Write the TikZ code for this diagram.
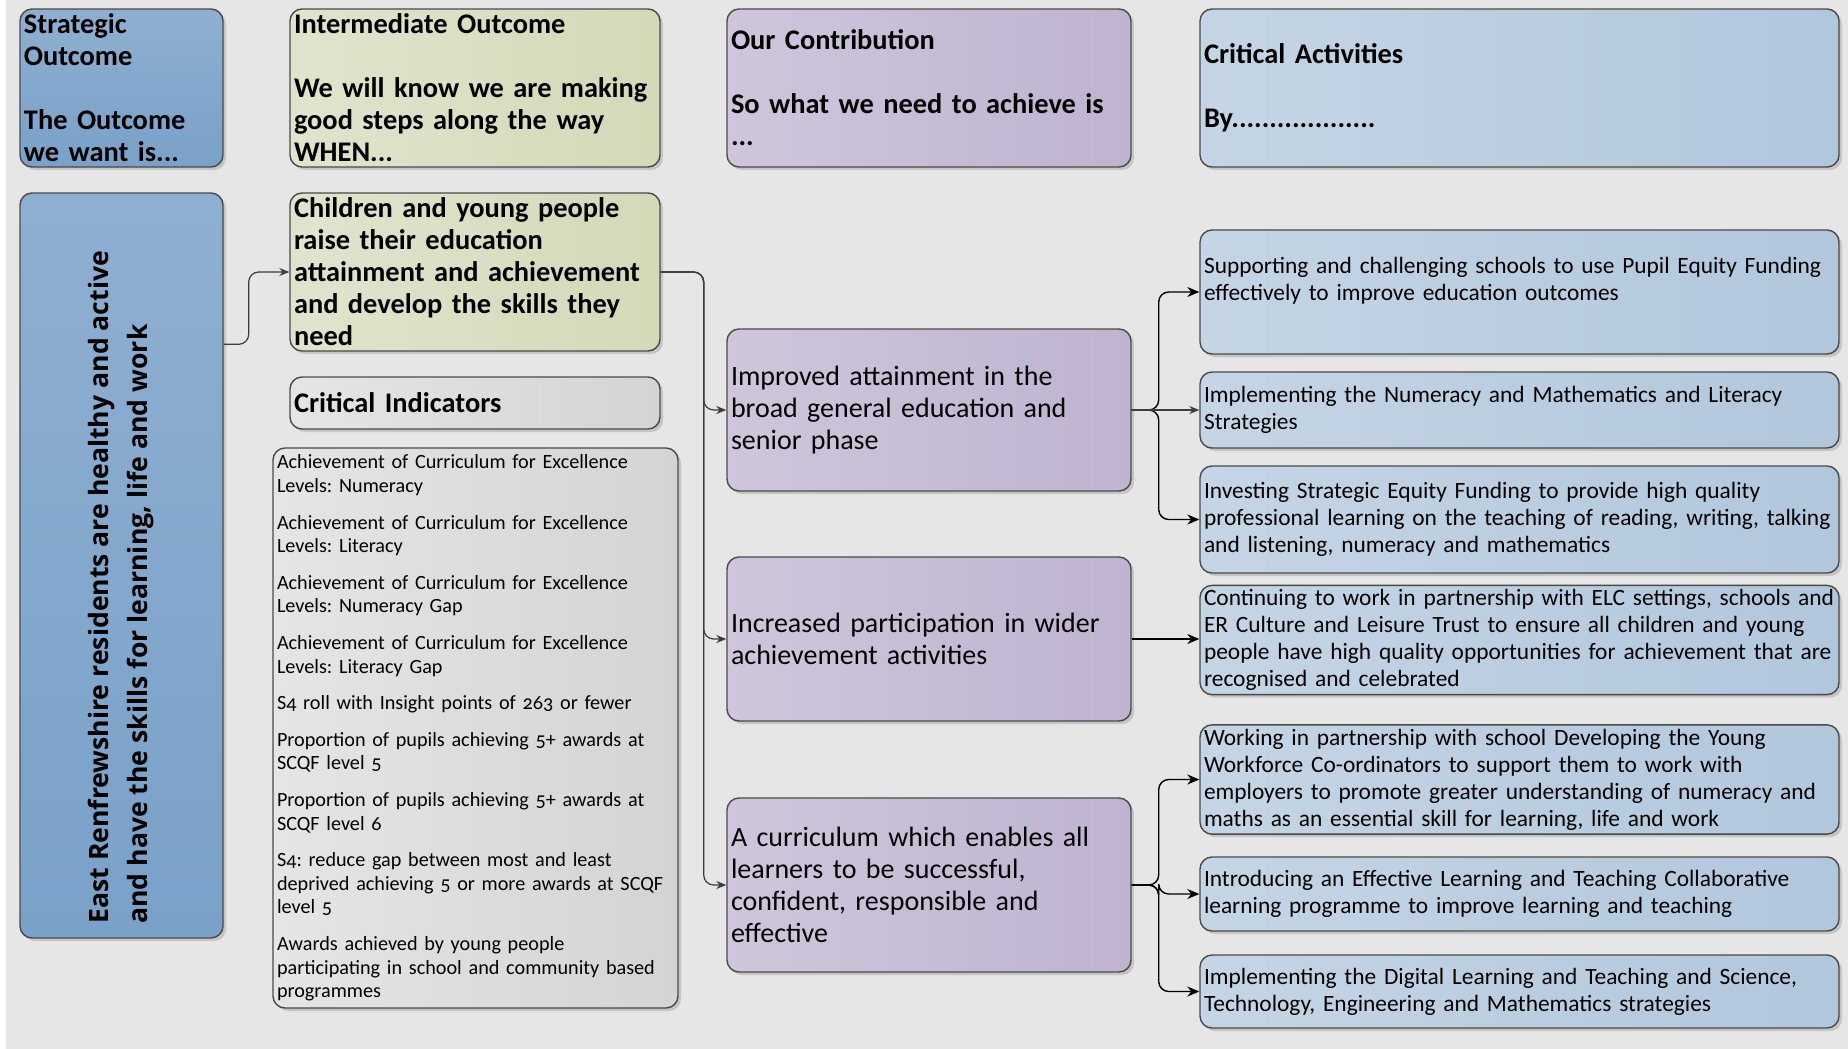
\documentclass[tikz,border=0pt]{standalone}
\usepackage{fontspec}
\setmainfont{Carlito}
\newfontfamily\goalfont{Open Sans}
\usepackage{tikz}
\usetikzlibrary{arrows.meta, shadows}
\frenchspacing

\definecolor{bggray}{HTML}{E6E6E6}
\definecolor{boxline}{HTML}{4A4A4A}
\definecolor{stratblue}{HTML}{7AA1C9}
\definecolor{intergreen}{HTML}{D2DAB8}
\definecolor{contribpurple}{HTML}{BFB3D0}
\definecolor{actblue}{HTML}{B1C7DC}
\definecolor{indgray}{HTML}{D4D4D4}
\definecolor{linkgray}{HTML}{3C3C3C}

\tikzset{
  box/.style={draw=boxline, line width=0.7pt, rounded corners=6pt, align=left,
    inner xsep=2pt, inner ysep=2pt,
    drop shadow={shadow xshift=1.5pt, shadow yshift=-1.5pt, opacity=0.25, fill=black!60}},
  strat/.style={box, top color=stratblue!85!white, bottom color=stratblue},
  inter/.style={box, left color=intergreen!70!white, right color=intergreen},
  contrib/.style={box, left color=contribpurple!75!white, right color=contribpurple},
  activ/.style={box, left color=actblue!75!white, right color=actblue},
  indic/.style={box, left color=indgray!60!white, right color=indgray},
  hdr/.style={font=\bfseries\fontsize{14.2}{16}\selectfont},
  bigtxt/.style={font=\fontsize{14}{16}\selectfont},
  acttxt/.style={font=\fontsize{11.7}{13.5}\selectfont},
  indtxt/.style={font=\fontsize{10.1}{11.8}\selectfont\addfontfeatures{Numbers=OldStyle}},
  link/.style={draw=linkgray, line width=0.6pt, rounded corners=5pt, -{Stealth[length=5pt,width=4pt]}},
  actlink/.style={draw=black, line width=0.7pt, rounded corners=5pt, -{Stealth[length=6pt,width=5pt]}}
}

\begin{document}
\begin{tikzpicture}[x=0.5pt, y=-0.5pt]

\useasboundingbox (0,0) rectangle (1848,1049);
\fill[white] (0,0) rectangle (1848,1049);
\fill[bggray] (6,0) rectangle (1848,1049);

% column headings
\node[strat, hdr, minimum width=101.5pt, minimum height=79pt, text width=97.5pt] (hStrat) at (121.5,88)
  {Strategic\\Outcome\\[16pt]The Outcome\\we want is...};
\node[inter, hdr, minimum width=185pt, minimum height=79pt, text width=181pt] (hInter) at (475,88)
  {Intermediate Outcome\\[16pt]We will know we are making\\good steps along the way\\WHEN...};
\node[contrib, hdr, minimum width=202pt, minimum height=79pt, text width=198pt] (hContrib) at (929,88)
  {Our Contribution\\[16pt]So what we need to achieve is\\...};
\node[activ, hdr, minimum width=319.5pt, minimum height=79pt, text width=315.5pt] (hActiv) at (1519.5,88)
  {Critical Activities\\[16pt]By...................};

% outcome
\node[strat, minimum width=101.5pt, minimum height=372.5pt] (goal) at (121.5,565.5) {};
\node[rotate=90, anchor=west, align=left, inner sep=0pt,
  font=\goalfont\bfseries\fontsize{13.3}{19.5}\selectfont] (goaltext) at (121.5,924)
  {East Renfrewshire residents are healthy and active\\and have the skills for learning, life and work};

\node[inter, hdr, minimum width=185pt, minimum height=79pt, text width=181pt] (inter) at (475,272)
  {Children and young people\\raise their education\\attainment and achievement\\and develop the skills they\\need};

% indicators
\node[indic, hdr, minimum width=185pt, minimum height=26pt, text width=181pt] (indHead) at (475,403)
  {Critical Indicators};
\node[indic, indtxt, minimum width=202.5pt, minimum height=280pt, text width=198.5pt] (indList) at (475.5,728)
  {Achievement of Curriculum for Excellence\\Levels: Numeracy\\[6.5pt]
   Achievement of Curriculum for Excellence\\Levels: Literacy\\[6.5pt]
   Achievement of Curriculum for Excellence\\Levels: Numeracy Gap\\[6.5pt]
   Achievement of Curriculum for Excellence\\Levels: Literacy Gap\\[6.5pt]
   S4 roll with Insight points of 263 or fewer\\[6.5pt]
   Proportion of pupils achieving 5+ awards at\\SCQF level 5\\[6.5pt]
   Proportion of pupils achieving 5+ awards at\\SCQF level 6\\[6.5pt]
   S4: reduce gap between most and least\\deprived achieving 5 or more awards at SCQF\\level 5\\[6.5pt]
   Awards achieved by young people\\participating in school and community based\\programmes};

% contributions
\node[contrib, bigtxt, minimum width=202pt, minimum height=81pt, text width=198pt] (contrib1) at (929,410)
  {Improved attainment in the\\broad general education and\\senior phase};
\node[contrib, bigtxt, minimum width=202pt, minimum height=82pt, text width=198pt] (contrib2) at (929,639)
  {Increased participation in wider\\achievement activities};
\node[contrib, bigtxt, minimum width=202pt, minimum height=87pt, text width=198pt] (contrib3) at (929,885)
  {A curriculum which enables all\\learners to be successful,\\confident, responsible and\\effective};

% activities
\node[activ, acttxt, minimum width=319.5pt, minimum height=62pt, text width=315.5pt] (act1) at (1519.5,292)
  {Supporting and challenging schools to use Pupil Equity Funding\\effectively to improve education outcomes\\\mbox{}};
\node[activ, acttxt, minimum width=319.5pt, minimum height=38pt, text width=315.5pt] (act2) at (1519.5,410)
  {Implementing the Numeracy and Mathematics and Literacy\\Strategies};
\node[activ, acttxt, minimum width=319.5pt, minimum height=53.5pt, text width=315.5pt] (act3) at (1519.5,519.5)
  {Investing Strategic Equity Funding to provide high quality\\professional learning on the teaching of reading, writing, talking\\and listening, numeracy and mathematics};
\node[activ, acttxt, minimum width=319.5pt, minimum height=53pt, text width=315.5pt] (act4) at (1519.5,640)
  {Continuing to work in partnership with ELC settings, schools and\\ER Culture and Leisure Trust to ensure all children and young\\people have high quality opportunities for achievement that are\\recognised and celebrated};
\node[activ, acttxt, minimum width=319.5pt, minimum height=53.5pt, text width=315.5pt] (act5) at (1519.5,779.5)
  {Working in partnership with school Developing the Young\\Workforce Co-ordinators to support them to work with\\employers to promote greater understanding of numeracy and\\maths as an essential skill for learning, life and work};
\node[activ, acttxt, minimum width=319.5pt, minimum height=37pt, text width=315.5pt] (act6) at (1519.5,894)
  {Introducing an Effective Learning and Teaching Collaborative\\learning programme to improve learning and teaching};
\node[activ, acttxt, minimum width=319.5pt, minimum height=36.5pt, text width=315.5pt] (act7) at (1519.5,991.5)
  {Implementing the Digital Learning and Teaching and Science,\\Technology, Engineering and Mathematics strategies};

% connectors
\draw[link] ([yshift=-76pt]goal.north east) -- ++(12.5pt,0) |- (inter.west);
\foreach \t in {contrib1,contrib2,contrib3}
  \draw[link] (inter.east) -- ++(21.5pt,0) |- (\t.west);
\foreach \t in {act1,act3}
  \draw[actlink] (contrib1.east) -- ++(13.5pt,0) |- (\t.west);
\draw[link] (contrib1.east) -- (act2.west);
\draw[actlink] (contrib2.east) -- (contrib2.east -| act4.west);
\foreach \t in {act5,act6,act7}
  \draw[actlink] (contrib3.east) -- ++(13.5pt,0) |- (\t.west);

\end{tikzpicture}
\end{document}
